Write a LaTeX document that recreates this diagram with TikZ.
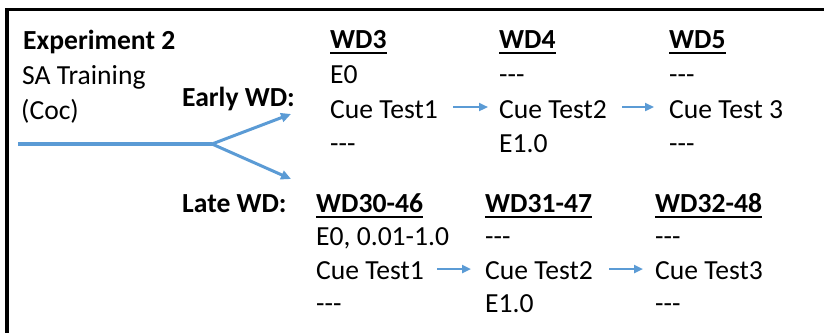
\documentclass[tikz,border=0pt]{standalone}
\usepackage{fontspec}
\setmainfont{Carlito}
\usetikzlibrary{arrows.meta}
\definecolor{offblue}{RGB}{91,155,213}
\tikzset{
  txt/.style={anchor=base west, inner sep=0pt, font=\fontsize{27.6}{33}\selectfont},
  btxt/.style={txt, font=\fontsize{27.6}{33}\selectfont\bfseries},
  arr/.style={draw=offblue, line width=3pt, -{Triangle[length=10pt,width=9pt]}},
  sarr/.style={draw=offblue, line width=2.4pt, -{Triangle[length=9pt,width=8pt]}},
  trunk/.style={draw=offblue, line width=3.5pt},
  uline/.style={line width=2pt},
  frame/.style={line width=3.8pt}
}
\begin{document}
\begin{tikzpicture}[x=1pt,y=-1pt]
\useasboundingbox (0,0) rectangle (824,332);
\clip (0,0) rectangle (824,332);
\draw[frame] (7,400) -- (7,9.5) -- (900,9.5);

% left block
\node[btxt] (exp) at (23,49) {Experiment 2};
\node[txt] (sa) at (22,84) {SA Training};
\node[txt] (coc) at (21,119) {(Coc)};
\node[btxt] (early) at (182,106) {Early WD:};
\node[btxt] (late) at (182,212) {Late WD:};

% branching arrow
\coordinate (s) at (18,144);
\coordinate (br) at (212,144);
\coordinate (t1) at (291,114);
\coordinate (t2) at (291,179);
\draw[trunk] (s) -- (br);
\draw[arr] (br) -- (t1);
\draw[arr] (br) -- (t2);

% early columns
\node[btxt] (h3) at (330,48) {WD3};
\node[btxt] (h4) at (499,48) {WD4};
\node[btxt] (h5) at (669,48) {WD5};
\node[txt] (a1) at (330,83) {E0};
\node[txt] (a2) at (499,83) {-{}-{}-};
\node[txt] (a3) at (669,83) {-{}-{}-};
\node[txt] (c1) at (330,118) {Cue Test1};
\node[txt] (c2) at (499,118) {Cue Test2};
\node[txt] (c3) at (669,118) {Cue Test 3};
\node[txt] (b1) at (330,152) {-{}-{}-};
\node[txt] (b2) at (499,152) {E1.0};
\node[txt] (b3) at (669,152) {-{}-{}-};

% late columns
\node[btxt] (l3) at (316,212) {WD30-46};
\node[btxt] (l4) at (485,212) {WD31-47};
\node[btxt] (l5) at (655,212) {WD32-48};
\node[txt] (m1) at (316,245) {E0, 0.01-1.0};
\node[txt] (m2) at (485,245) {-{}-{}-};
\node[txt] (m3) at (655,245) {-{}-{}-};
\node[txt] (d1) at (316,279) {Cue Test1};
\node[txt] (d2) at (485,279) {Cue Test2};
\node[txt] (d3) at (655,279) {Cue Test3};
\node[txt] (n1) at (316,312) {-{}-{}-};
\node[txt] (n2) at (485,312) {E1.0};
\node[txt] (n3) at (655,312) {-{}-{}-};

% underlines
\foreach \h in {h3,h4,h5,l3,l4,l5}
  \draw[uline] ([yshift=-5pt]\h.base west) -- ([yshift=-5pt]\h.base east);

% small arrows (canvas yshift is upward)
\draw[sarr] ([xshift=15pt,yshift=11pt]c1.base east) -- ([xshift=-11pt,yshift=11pt]c2.base west);
\draw[sarr] ([xshift=15pt,yshift=11pt]c2.base east) -- ([xshift=-15pt,yshift=11pt]c3.base west);
\draw[sarr] ([xshift=13pt,yshift=10pt]d1.base east) -- ([xshift=-14pt,yshift=10pt]d2.base west);
\draw[sarr] ([xshift=16pt,yshift=10pt]d2.base east) -- ([xshift=-12pt,yshift=10pt]d3.base west);
\end{tikzpicture}
\end{document}
